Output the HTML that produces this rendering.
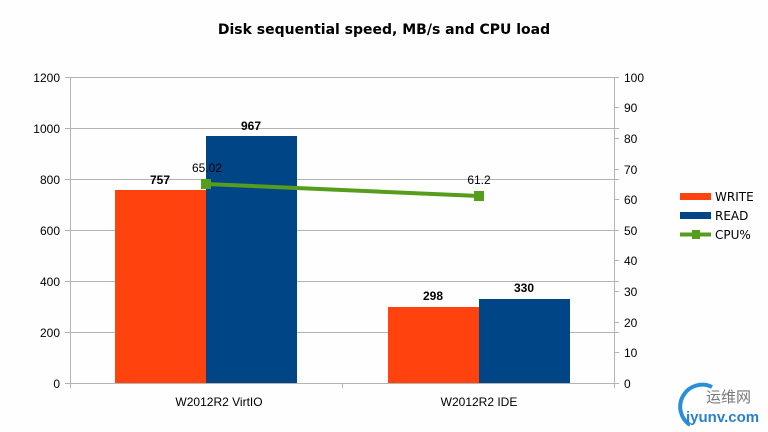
<!DOCTYPE html>
<html><head><style>body{margin:0;background:#fff}svg{display:block}text{font-family:"Liberation Sans","Noto Sans CJK SC",sans-serif}.dv{font-family:"DejaVu Sans",sans-serif}</style></head><body>
<svg width="768" height="432" xmlns="http://www.w3.org/2000/svg">
<rect width="768" height="432" fill="#fefefe"/>
<text class="dv" x="384" y="34" font-size="14" font-weight="bold" text-anchor="middle">Disk sequential speed, MB/s and CPU load</text>
<g stroke="#b3b3b3" stroke-width="1">
<line x1="65" y1="77.5" x2="619" y2="77.5"/><line x1="65" y1="128.5" x2="619" y2="128.5"/><line x1="65" y1="179.5" x2="619" y2="179.5"/><line x1="65" y1="230.5" x2="619" y2="230.5"/><line x1="65" y1="281.5" x2="619" y2="281.5"/><line x1="65" y1="332.5" x2="619" y2="332.5"/><line x1="65" y1="383.5" x2="619" y2="383.5"/>
<line x1="70.5" y1="77" x2="70.5" y2="383"/><line x1="614.5" y1="77" x2="614.5" y2="383"/>
<line x1="342.5" y1="383" x2="342.5" y2="388"/><line x1="70.5" y1="383" x2="70.5" y2="388"/><line x1="614.5" y1="383" x2="614.5" y2="388"/>
<line x1="614" y1="107.5" x2="619" y2="107.5"/><line x1="614" y1="138.5" x2="619" y2="138.5"/><line x1="614" y1="169.5" x2="619" y2="169.5"/><line x1="614" y1="199.5" x2="619" y2="199.5"/><line x1="614" y1="230.5" x2="619" y2="230.5"/><line x1="614" y1="260.5" x2="619" y2="260.5"/><line x1="614" y1="291.5" x2="619" y2="291.5"/><line x1="614" y1="322.5" x2="619" y2="322.5"/><line x1="614" y1="352.5" x2="619" y2="352.5"/>
</g>
<g font-size="12" text-anchor="end" fill="#000">
<text x="60" y="82">1200</text><text x="60" y="133">1000</text><text x="60" y="184">800</text><text x="60" y="235">600</text><text x="60" y="286">400</text><text x="60" y="337">200</text><text x="60" y="388">0</text>
</g>
<g font-size="12" fill="#000">
<text x="624" y="82">100</text><text x="624" y="112">90</text><text x="624" y="143">80</text><text x="624" y="174">70</text><text x="624" y="204">60</text><text x="624" y="235">50</text><text x="624" y="265">40</text><text x="624" y="296">30</text><text x="624" y="327">20</text><text x="624" y="357">10</text><text x="624" y="388">0</text>
</g>
<rect x="115" y="190" width="91" height="193" fill="#ff420e"/>
<rect x="206" y="136" width="91" height="247" fill="#004586"/>
<rect x="388" y="307" width="91" height="76" fill="#ff420e"/>
<rect x="479" y="299" width="91" height="84" fill="#004586"/>
<g class="dv" font-size="12" font-weight="bold" text-anchor="middle">
<text x="160" y="184">757</text><text x="251" y="130">967</text><text x="433" y="300">298</text><text x="524" y="292">330</text>
</g>
<line x1="206" y1="184" x2="479" y2="196" stroke="#579d1c" stroke-width="4"/>
<rect x="201" y="179" width="10" height="10" fill="#579d1c"/>
<rect x="474" y="191" width="10" height="10" fill="#579d1c"/>
<g class="dv" font-size="12" text-anchor="middle"><text x="207" y="172">65.02</text><text x="479" y="184">61.2</text></g>
<g class="dv" font-size="12" text-anchor="middle"><text x="219" y="406">W2012R2 VirtIO</text><text x="479" y="406">W2012R2 IDE</text></g>
<rect x="680" y="193" width="31" height="7" fill="#ff420e"/>
<text class="dv" x="715" y="201" font-size="12">WRITE</text>
<rect x="680" y="212" width="31" height="7" fill="#004586"/>
<text class="dv" x="715" y="220" font-size="12">READ</text>
<line x1="680" y1="234.5" x2="711" y2="234.5" stroke="#579d1c" stroke-width="4"/>
<rect x="692" y="230" width="8" height="9" fill="#579d1c"/>
<text class="dv" x="715" y="239" font-size="12">CPU%</text>
<path d="M690 425 A22 22 0 0 1 712 387" stroke="#2a8fd8" stroke-width="4" fill="none"/>
<text x="706" y="402" font-size="15" fill="#777">运维网</text>
<text x="686" y="422" font-size="15" font-weight="bold" fill="#2a7fcf">iyunv.com</text>
</svg>
</body></html>
